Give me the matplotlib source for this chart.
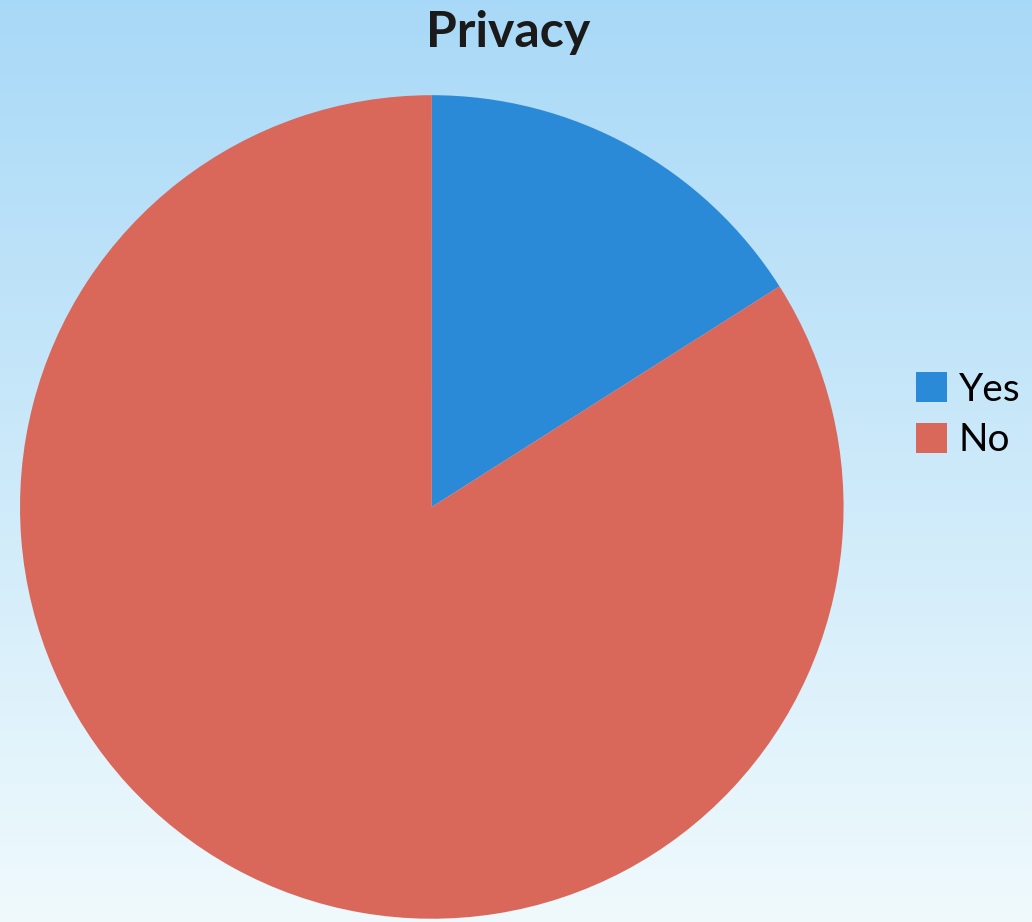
import matplotlib.pyplot as plt
import numpy as np

labels = ['Yes', 'No']
values = [16, 84]
colors = ['#2B8AD8', '#D9675A']

plt.rcParams['font.family'] = ['Lato', 'DejaVu Sans']

fig = plt.figure(figsize=(10.32, 9.22), dpi=100)

# gradient background, light blue at top fading to near white
bg = fig.add_axes([0, 0, 1, 1])
grad = np.linspace(0, 1, 256).reshape(-1, 1)
top = np.array([0.66, 0.85, 0.97])
bottom = np.array([0.94, 0.98, 0.99])
img = top + (bottom - top) * grad[:, :, None]
bg.imshow(img, aspect='auto', extent=[0, 1, 0, 1])
bg.axis('off')

ax = fig.add_axes([0.0194, 0.0033, 0.798, 0.8937])
wedges, _ = ax.pie(values, colors=colors, startangle=90, counterclock=False,
                   wedgeprops={'linewidth': 0})
ax.set_xlim(-1, 1)
ax.set_ylim(-1, 1)
ax.set_aspect('equal')
ax.axis('off')

fig.text(0.492, 0.965, 'Privacy', ha='center', va='center',
         fontsize=36, fontweight='bold', color='#1a1a1a')

fig.legend(wedges, labels, loc='center left', bbox_to_anchor=(0.861, 0.55),
           frameon=False, fontsize=28, handlelength=0.8, handleheight=0.8,
           handletextpad=0.3, labelspacing=0.38, borderpad=0.2)

fig.savefig('out.png', dpi=100)
